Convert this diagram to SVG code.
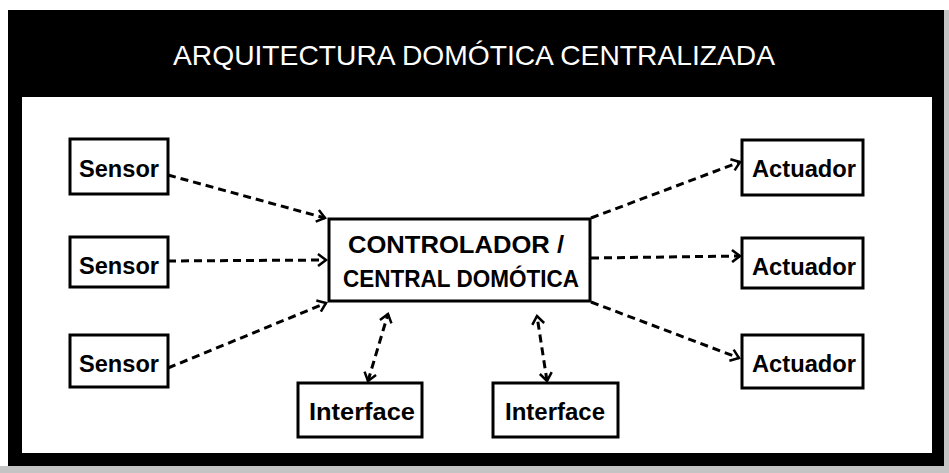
<svg xmlns="http://www.w3.org/2000/svg" width="949" height="473" viewBox="0 0 949 473">
<style>
.box{fill:#fff;stroke:#000;stroke-width:3}
.lbl{font-family:"Liberation Sans",Arial,sans-serif;font-weight:bold;font-size:23px;fill:#000;text-anchor:middle}
.big{font-family:"Liberation Sans",Arial,sans-serif;font-weight:bold;font-size:23px;fill:#000;text-anchor:middle}
.con{fill:none;stroke:#000;stroke-width:3;stroke-dasharray:8 5}
</style>
<defs>
<marker id="ah" markerWidth="14" markerHeight="14" refX="11" refY="7" orient="auto-start-reverse" markerUnits="userSpaceOnUse">
<path d="M3,1 L11,7 L3,13" fill="none" stroke="#000" stroke-width="2.5"/>
</marker>
</defs>
<rect x="0" y="0" width="949" height="473" fill="#fff"/>
<rect x="0" y="466" width="949" height="7" fill="#c4c4c4"/>
<rect x="944" y="10" width="5" height="463" fill="#c4c4c4"/>
<rect x="8" y="10" width="936" height="456" fill="#000"/>
<rect x="22" y="97" width="910" height="356" fill="#fff"/>
<text x="173" y="65" font-family="'Liberation Sans',Arial,sans-serif" font-size="28" fill="#fff" textLength="602" lengthAdjust="spacingAndGlyphs">ARQUITECTURA DOMÓTICA CENTRALIZADA</text>
<g id="connectors">
<path class="con" d="M168,175 L325,218" marker-end="url(#ah)"/>
<path class="con" d="M168,261 L326,260" marker-end="url(#ah)"/>
<path class="con" d="M168,368 L326,303" marker-end="url(#ah)"/>
<path class="con" d="M591,218 L740,162" marker-end="url(#ah)"/>
<path class="con" d="M591,258 L740,256" marker-end="url(#ah)"/>
<path class="con" d="M591,302 L739,358" marker-end="url(#ah)"/>
<path class="con" d="M368,381 L388,314" marker-start="url(#ah)" marker-end="url(#ah)"/>
<path class="con" d="M547,381 L537,316" marker-start="url(#ah)" marker-end="url(#ah)"/>
</g>
<g id="sensor1"><rect class="box" x="70" y="139" width="98" height="55"/><text class="lbl" x="119" y="177" textLength="80" lengthAdjust="spacingAndGlyphs">Sensor</text></g>
<g id="sensor2"><rect class="box" x="70" y="237" width="98" height="50"/><text class="lbl" x="119" y="274" textLength="80" lengthAdjust="spacingAndGlyphs">Sensor</text></g>
<g id="sensor3"><rect class="box" x="70" y="335" width="98" height="52"/><text class="lbl" x="119" y="372" textLength="80" lengthAdjust="spacingAndGlyphs">Sensor</text></g>
<g id="controlador"><rect class="box" x="329" y="219" width="261" height="82"/><text class="big" x="456" y="253" textLength="216" lengthAdjust="spacingAndGlyphs">CONTROLADOR /</text><text class="big" x="461" y="287" textLength="236" lengthAdjust="spacingAndGlyphs">CENTRAL DOMÓTICA</text></g>
<g id="actuador1"><rect class="box" x="742" y="140" width="121" height="55"/><text class="lbl" x="804" y="177" textLength="104" lengthAdjust="spacingAndGlyphs">Actuador</text></g>
<g id="actuador2"><rect class="box" x="742" y="238" width="121" height="50"/><text class="lbl" x="804" y="275" textLength="104" lengthAdjust="spacingAndGlyphs">Actuador</text></g>
<g id="actuador3"><rect class="box" x="742" y="335" width="121" height="53"/><text class="lbl" x="804" y="372" textLength="104" lengthAdjust="spacingAndGlyphs">Actuador</text></g>
<g id="interface1"><rect class="box" x="298" y="383" width="124" height="54"/><text class="lbl" x="362" y="420" textLength="106" lengthAdjust="spacingAndGlyphs">Interface</text></g>
<g id="interface2"><rect class="box" x="493" y="383" width="125" height="54"/><text class="lbl" x="555" y="420" textLength="100" lengthAdjust="spacingAndGlyphs">Interface</text></g>
</svg>
